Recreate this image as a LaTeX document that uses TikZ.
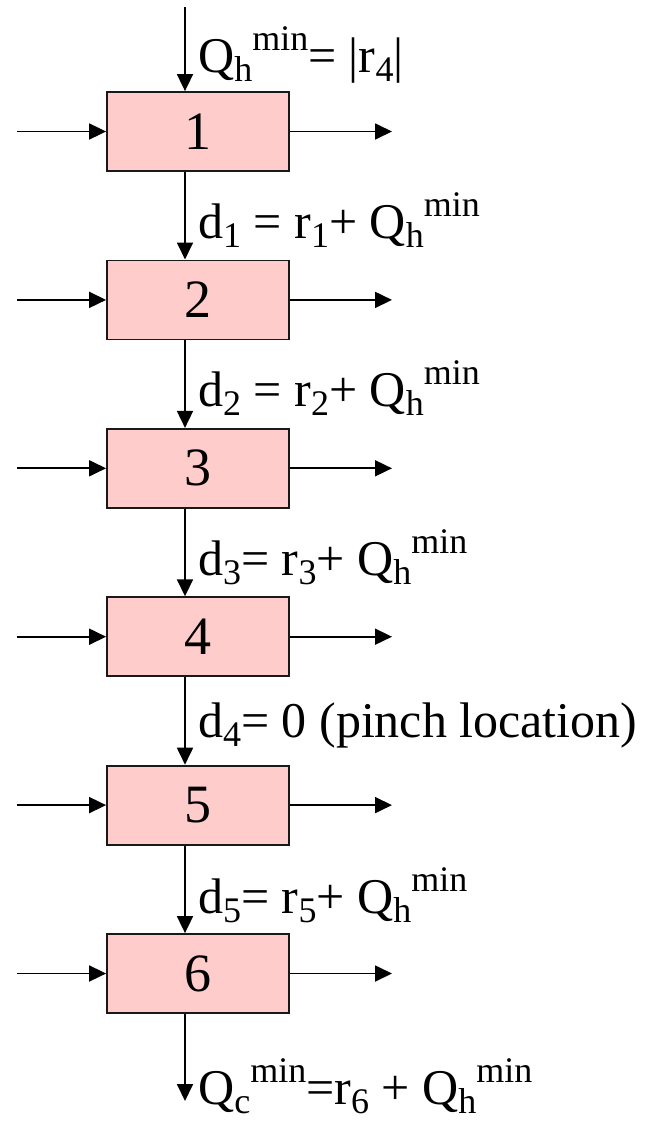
\documentclass[tikz,border=0pt]{standalone}
\usepackage{fontspec}
\setmainfont{Liberation Serif}
\usetikzlibrary{arrows.meta}
\definecolor{boxpink}{HTML}{FFCCCC}
\newcommand\mysub[1]{\raisebox{-9pt}{\fontsize{36pt}{36pt}\selectfont #1}}
\newcommand\mysup[1]{\raisebox{22pt}{\fontsize{36pt}{36pt}\selectfont #1}}
\begin{document}
\begin{tikzpicture}[x=1pt,y=-1pt,
  unitbox/.style={draw=black!90, line width=1.8pt, fill=boxpink, minimum width=182pt, minimum height=79pt, inner sep=0pt, font=\fontsize{54pt}{54pt}\selectfont},
  flow/.style={line width=1.8pt, -{Triangle[length=17pt,width=16pt]}},
  lbl/.style={anchor=base west, inner sep=0pt, font=\fontsize{50pt}{50pt}\selectfont}]
\useasboundingbox (0,0) rectangle (652,1122);
\coordinate (vx) at (185,0);
\coordinate (topstart) at (185,7);
\coordinate (botend) at (185,1101);
\foreach \i/\cy in {1/131.5,2/299.9,3/468.3,4/636.7,5/805.1,6/973.5}{
  \node[unitbox] (b\i) at (198,\cy) {\i};
  \coordinate (l\i) at (17,\cy);
  \coordinate (r\i) at (392,\cy);
  \draw[flow] (l\i) -- (b\i.west);
  \draw[flow] (b\i.east) -- (r\i);
}
\draw[flow] (topstart) -- (b1.north -| vx);
\foreach \a/\b in {1/2,2/3,3/4,4/5,5/6}{
  \draw[flow] (b\a.south -| vx) -- (b\b.north -| vx);
}
\draw[flow] (b6.south -| vx) -- (botend);
\node[lbl] (t0) at (198,72) {Q\mysub{h}\mysup{min}= |r\mysub{4}|};
\node[lbl] (t1) at (198,238) {d\mysub{1} = r\mysub{1}+ Q\mysub{h}\mysup{min}};
\node[lbl] (t2) at (198,406) {d\mysub{2} = r\mysub{2}+ Q\mysub{h}\mysup{min}};
\node[lbl] (t3) at (198,575) {d\mysub{3}= r\mysub{3}+ Q\mysub{h}\mysup{min}};
\node[lbl] (t4) at (198,737) {d\mysub{4}= 0 (pinch location)};
\node[lbl] (t5) at (198,913) {d\mysub{5}= r\mysub{5}+ Q\mysub{h}\mysup{min}};
\node[lbl] (t6) at (198,1104) {Q\mysub{c}\mysup{min}=r\mysub{6} + Q\mysub{h}\mysup{min}};
\end{tikzpicture}
\end{document}
